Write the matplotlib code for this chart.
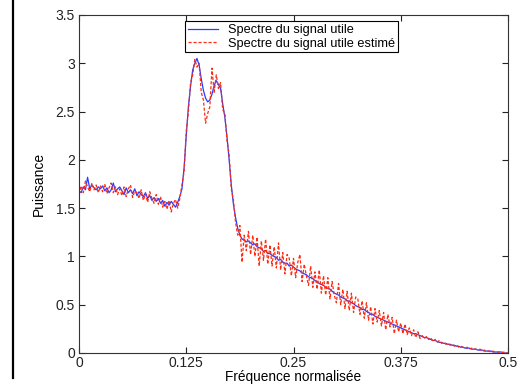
import numpy as np
import matplotlib
matplotlib.use("Agg")
import matplotlib.pyplot as plt
from matplotlib.lines import Line2D

plt.rcParams["font.family"] = ["Liberation Sans", "DejaVu Sans"]

# Normalized frequency grid (0 .. 0.5, 201 bins)
freq = np.linspace(0.0, 0.5, 201)

# True useful-signal spectrum
spectre_utile = [
    1.68, 1.66, 1.72, 1.69, 1.82, 1.70, 1.74, 1.71, 1.69, 1.72,
    1.70, 1.73, 1.68, 1.71, 1.66, 1.69, 1.76, 1.67, 1.70, 1.72,
    1.68, 1.64, 1.71, 1.66, 1.69, 1.65, 1.70, 1.63, 1.67, 1.64,
    1.62, 1.66, 1.60, 1.63, 1.58, 1.61, 1.57, 1.60, 1.55, 1.58,
    1.52, 1.56, 1.53, 1.57, 1.54, 1.51, 1.56, 1.62, 1.70, 1.92,
    2.25, 2.55, 2.76, 2.93, 3.00, 3.05, 2.98, 2.84, 2.72, 2.64,
    2.60, 2.62, 2.68, 2.77, 2.82, 2.78, 2.74, 2.58, 2.44, 2.24,
    2.00, 1.74, 1.54, 1.40, 1.29, 1.22, 1.18, 1.17, 1.15, 1.16,
    1.14, 1.12, 1.13, 1.10, 1.09, 1.08, 1.05, 1.06, 1.03, 1.03,
    1.01, 1.00, 0.99, 0.96, 0.97, 0.94, 0.93, 0.93, 0.90, 0.91,
    0.89, 0.87, 0.86, 0.85, 0.83, 0.82, 0.81, 0.79, 0.78, 0.77,
    0.75, 0.74, 0.72, 0.71, 0.70, 0.68, 0.67, 0.66, 0.64, 0.62,
    0.61, 0.60, 0.58, 0.57, 0.56, 0.54, 0.54, 0.52, 0.51, 0.49,
    0.48, 0.47, 0.45, 0.45, 0.43, 0.42, 0.40, 0.40, 0.38, 0.37,
    0.36, 0.35, 0.34, 0.33, 0.32, 0.31, 0.30, 0.29, 0.28, 0.27,
    0.26, 0.25, 0.24, 0.23, 0.22, 0.21, 0.20, 0.20, 0.19, 0.18,
    0.17, 0.16, 0.16, 0.15, 0.14, 0.13, 0.13, 0.12, 0.11, 0.11,
    0.10, 0.10, 0.09, 0.09, 0.08, 0.08, 0.07, 0.07, 0.06, 0.06,
    0.05, 0.05, 0.05, 0.04, 0.04, 0.04, 0.03, 0.03, 0.03, 0.02,
    0.02, 0.02, 0.02, 0.01, 0.01, 0.01, 0.01, 0.01, 0.00, 0.00,
    0.00,
]

# Estimated useful-signal spectrum
spectre_estime = [
    1.64, 1.73, 1.66, 1.78, 1.72, 1.67, 1.76, 1.69, 1.74, 1.66,
    1.73, 1.67, 1.75, 1.65, 1.71, 1.76, 1.66, 1.72, 1.64, 1.70,
    1.63, 1.72, 1.62, 1.70, 1.74, 1.61, 1.68, 1.66, 1.60, 1.69,
    1.58, 1.65, 1.56, 1.67, 1.60, 1.55, 1.64, 1.54, 1.62, 1.51,
    1.57, 1.49, 1.58, 1.46, 1.55, 1.59, 1.50, 1.60, 1.74, 1.88,
    2.30, 2.50, 2.80, 2.88, 3.04, 2.96, 3.00, 2.70, 2.62, 2.38,
    2.48, 2.55, 2.95, 2.70, 2.88, 2.74, 2.80, 2.52, 2.48, 2.20,
    2.05, 1.70, 1.58, 1.35, 1.22, 1.32, 0.94, 1.22, 1.06, 1.26,
    1.02, 1.22, 1.00, 1.20, 0.90, 1.16, 0.96, 1.18, 0.92, 1.12,
    0.90, 1.10, 0.88, 1.14, 0.86, 1.04, 0.82, 1.02, 0.98, 0.80,
    0.98, 0.78, 0.94, 1.02, 0.74, 0.92, 0.80, 0.70, 0.90, 0.68,
    0.84, 0.66, 0.86, 0.62, 0.80, 0.60, 0.78, 0.56, 0.74, 0.60,
    0.52, 0.72, 0.50, 0.66, 0.46, 0.64, 0.44, 0.62, 0.42, 0.58,
    0.56, 0.40, 0.54, 0.36, 0.52, 0.34, 0.48, 0.30, 0.46, 0.32,
    0.44, 0.28, 0.42, 0.24, 0.40, 0.27, 0.37, 0.20, 0.34, 0.22,
    0.31, 0.20, 0.30, 0.19, 0.26, 0.18, 0.24, 0.16, 0.22, 0.15,
    0.18, 0.15, 0.17, 0.14, 0.16, 0.12, 0.14, 0.11, 0.13, 0.10,
    0.11, 0.09, 0.10, 0.08, 0.09, 0.07, 0.08, 0.06, 0.07, 0.06,
    0.05, 0.06, 0.04, 0.05, 0.04, 0.04, 0.03, 0.04, 0.02, 0.03,
    0.02, 0.02, 0.01, 0.02, 0.01, 0.01, 0.01, 0.00, 0.01, 0.00,
    0.00,
]

xticks = [0, 0.125, 0.25, 0.375, 0.5]
xtick_labels = ["0", "0.125", "0.25", "0.375", "0.5"]
yticks = [0, 0.5, 1, 1.5, 2, 2.5, 3, 3.5]
ytick_labels = ["0", "0.5", "1", "1.5", "2", "2.5", "3", "3.5"]

fig = plt.figure(figsize=(5.18, 3.86), dpi=100)
ax = fig.add_axes([79 / 518, 1 - 353 / 386, 429 / 518, 338 / 386])

ax.plot(freq, spectre_utile, color="#2a3cff", lw=0.9,
        label="Spectre du signal utile")
ax.plot(freq, spectre_estime, color="#ff2a10", lw=0.9, ls=(0, (2.5, 1.5)),
        label="Spectre du signal utile estimé")

ax.set_xlim(0, 0.5)
ax.set_ylim(0, 3.5)
ax.set_xticks(xticks)
ax.set_xticklabels(xtick_labels)
ax.set_yticks(yticks)
ax.set_yticklabels(ytick_labels)
ax.tick_params(direction="in", top=True, right=True, length=4, width=0.8,
               labelsize=10, colors="#222222")
ax.tick_params(axis="x", pad=2)
ax.tick_params(axis="y", pad=3)
for sp in ax.spines.values():
    sp.set_color("#333333")
    sp.set_linewidth(0.8)

ax.set_xlabel("Fréquence normalisée", fontsize=9.8, labelpad=0)
ax.set_ylabel("Puissance", fontsize=10, labelpad=7)

leg = ax.legend(loc="upper left", bbox_to_anchor=(0.247, 0.981), fontsize=9.2,
                frameon=True, fancybox=False, framealpha=1, edgecolor="black",
                borderpad=0.2, handlelength=2.4, handletextpad=0.8,
                labelspacing=0.15, borderaxespad=0)
leg.get_frame().set_linewidth(0.8)

# Vertical rule on the left edge of the page
fig.add_artist(Line2D([13 / 518, 13 / 518], [1 - 378 / 386, 1.0],
                      transform=fig.transFigure, color="black", lw=1.6))

fig.savefig("out.png", dpi=100)
